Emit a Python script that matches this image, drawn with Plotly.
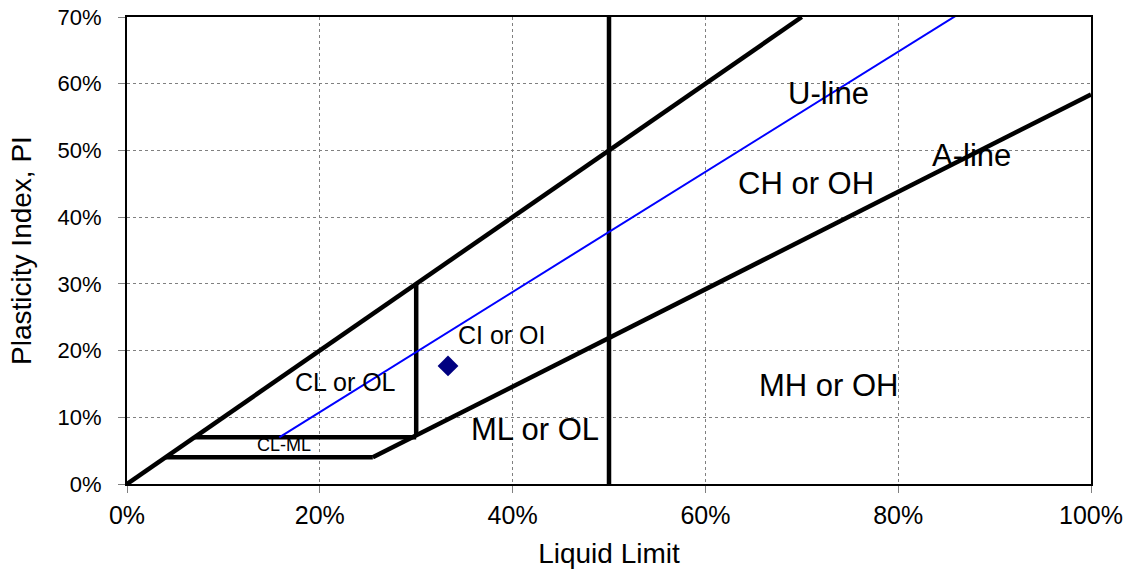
import plotly.graph_objects as go

FONT = "Liberation Sans, Arial, sans-serif"

# Casagrande plasticity chart boundaries (LL %, PI %)
upper_ll = [0, 70]
upper_pi = [0, 70]

u_line_ll = [15.8, 86]
u_line_pi = [7, 70.2]

a_line_ll = [25.5, 100]
a_line_pi = [4, 58.4]

ll30_ll = [30, 30]
ll30_pi = [7.3, 30]

ll50_ll = [50, 50]
ll50_pi = [0, 70]

pi7_ll = [7, 30]
pi7_pi = [7, 7]

pi4_ll = [4, 25.5]
pi4_pi = [4, 4]

# Sample result
sample_ll = [33.3]
sample_pi = [17.7]

# Zone labels
label_text = ["U-line", "A-line", "CH or OH", "CI or OI", "CL or OL", "ML or OL", "MH or OH", "CL-ML"]
label_ll = [72.8, 87.6, 70.4, 38.9, 22.7, 42.3, 72.8, 16.3]
label_pi = [58.6, 49.2, 45.1, 22.3, 15.3, 8.1, 14.8, 5.8]
label_size = [31, 31, 31, 25, 25, 31, 31, 18]

fig = go.Figure()

black_lines = [
    (upper_ll, upper_pi),
    (a_line_ll, a_line_pi),
    (ll30_ll, ll30_pi),
    (ll50_ll, ll50_pi),
    (pi7_ll, pi7_pi),
    (pi4_ll, pi4_pi),
]
for xs, ys in black_lines:
    fig.add_trace(go.Scatter(x=xs, y=ys, mode="lines",
                             line=dict(color="black", width=4.5),
                             showlegend=False, hoverinfo="skip"))

fig.add_trace(go.Scatter(x=u_line_ll, y=u_line_pi, mode="lines",
                         line=dict(color="#0000ff", width=2),
                         showlegend=False, hoverinfo="skip"))

fig.add_trace(go.Scatter(x=sample_ll, y=sample_pi, mode="markers",
                         marker=dict(symbol="diamond", size=16, color="#000080"),
                         showlegend=False))

for t, x, y, s in zip(label_text, label_ll, label_pi, label_size):
    fig.add_annotation(x=x, y=y, text=t, showarrow=False,
                       font=dict(size=s, color="black", family=FONT))

axis_common = dict(
    showline=True, linecolor="black", linewidth=2, mirror=True,
    showgrid=True, gridcolor="#808080", gridwidth=1, griddash="dot",
    ticks="outside", ticklen=7, tickcolor="#808080", tickwidth=1,
    zeroline=False, ticksuffix="%", automargin=False,
)

fig.update_xaxes(range=[0, 100], dtick=20,
                 tickfont=dict(size=25, color="black", family=FONT),
                 ticklabelstandoff=1,
                 title=dict(text="Liquid Limit", standoff=15,
                            font=dict(size=28, color="black", family=FONT)),
                 **axis_common)
fig.update_yaxes(range=[0, 70], dtick=10,
                 tickfont=dict(size=22, color="black", family=FONT),
                 ticklabelstandoff=12,
                 title=dict(text="Plasticity Index, PI", standoff=18,
                            font=dict(size=28, color="black", family=FONT)),
                 **axis_common)

fig.update_layout(
    width=1129, height=571,
    margin=dict(l=127, r=38, t=17, b=87),
    plot_bgcolor="white", paper_bgcolor="white",
)

fig.write_html("out.html")
